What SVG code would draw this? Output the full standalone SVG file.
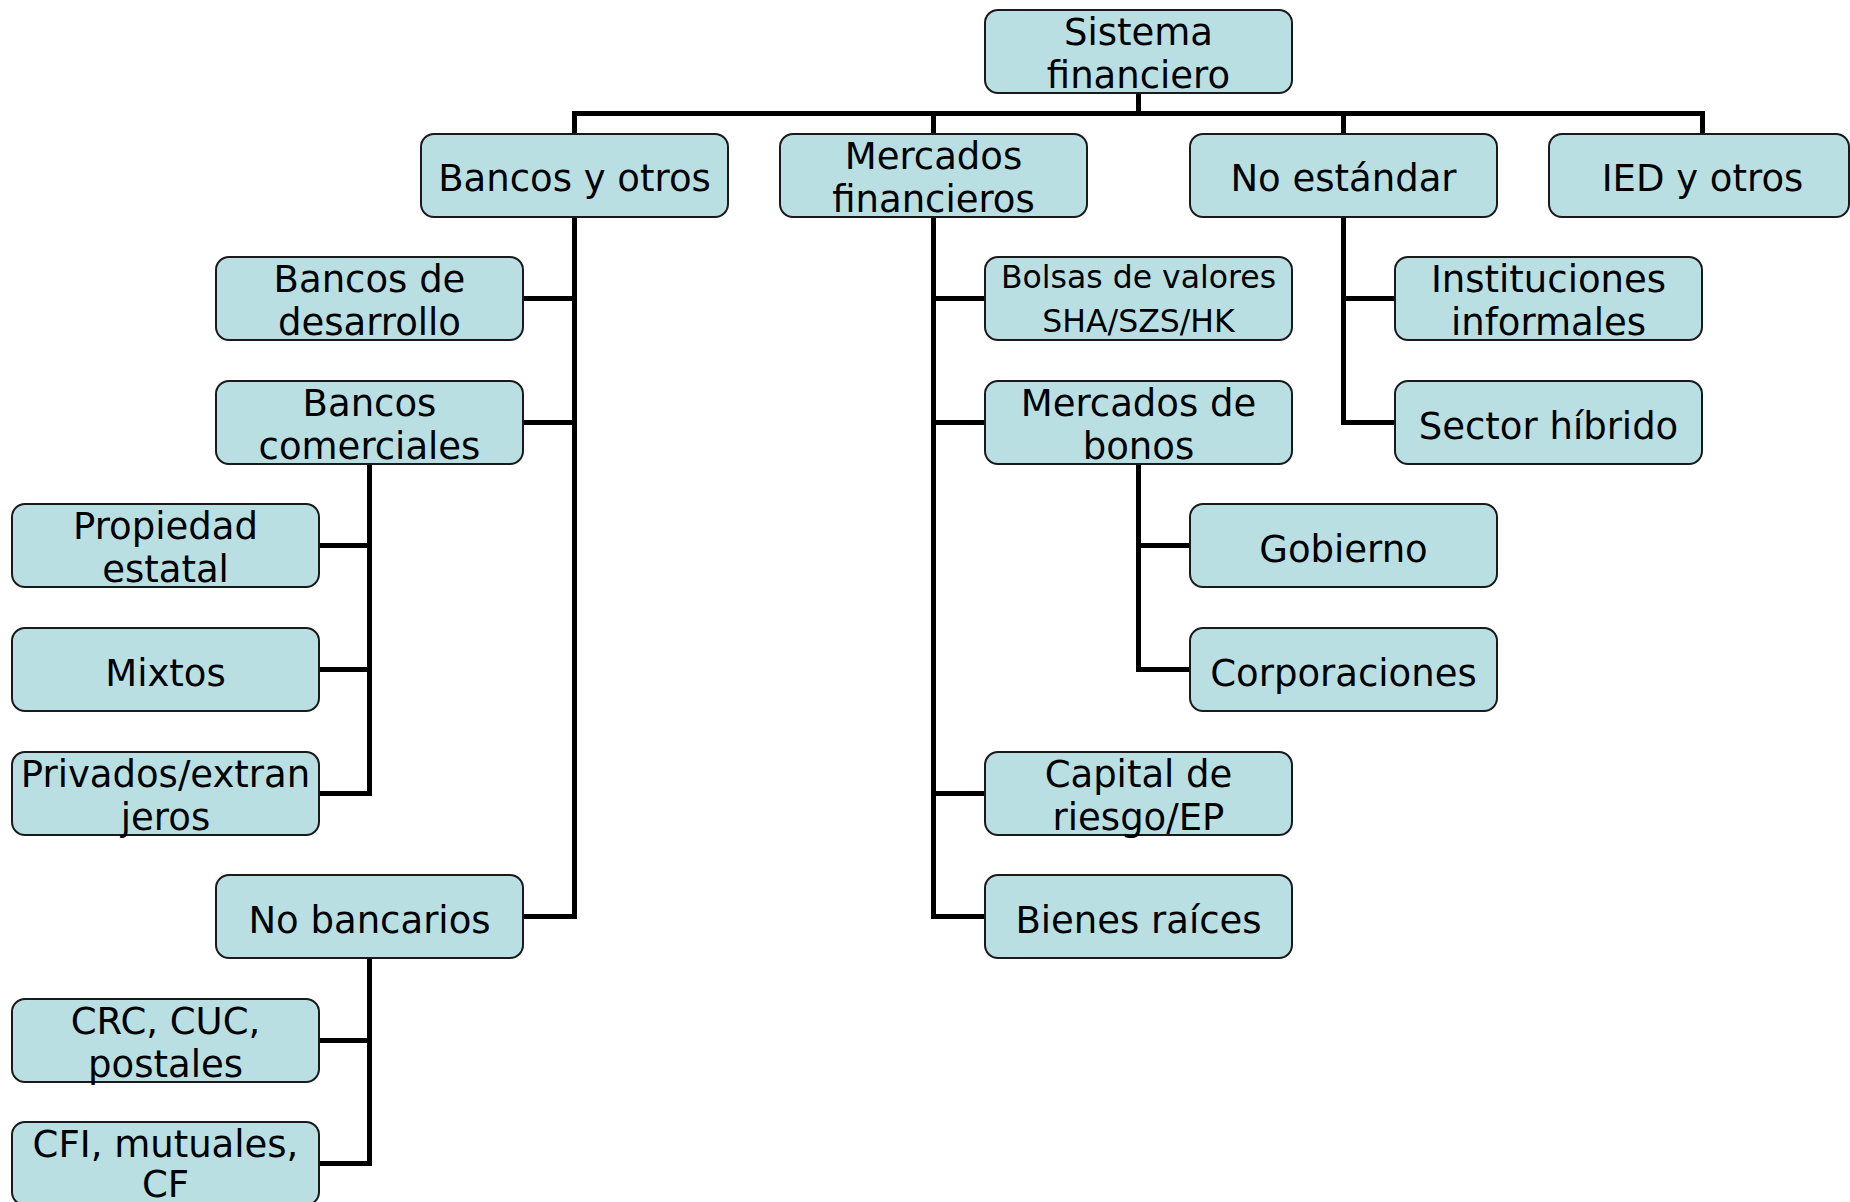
<svg xmlns="http://www.w3.org/2000/svg" width="1850" height="1202" viewBox="0 0 1850 1202">
<style>
.b{fill:#badfe2;stroke:#1a1a1a;stroke-width:2}
.t{font-family:"DejaVu Sans","Verdana",sans-serif;font-size:37px;fill:#000;text-anchor:middle}
.s{font-size:31.5px}
.c{fill:none;stroke:#000;stroke-width:5;stroke-linejoin:miter}
</style>
<rect width="1850" height="1202" fill="#fff"/>
<g id="connectors" class="c">
<path d="M1138.5 93V113.5M574.5 134V113.5H1702.5V134M933.5 113.5V134M1343.5 113.5V134"/>
<path d="M574.5 217V916.5H523M574.5 298.5H523M574.5 422.5H523"/>
<path d="M369.5 464V793.5H319M369.5 545.5H319M369.5 669.5H319"/>
<path d="M369.5 958V1163.5H319M369.5 1040.5H319"/>
<path d="M933.5 217V916.5H985M933.5 298.5H985M933.5 422.5H985M933.5 793.5H985"/>
<path d="M1138.5 464V669.5H1190M1138.5 545.5H1190"/>
<path d="M1343.5 217V422.5H1395M1343.5 298.5H1395"/>
</g>
<g id="root"><rect class="b" x="985" y="10" width="307" height="83" rx="13"/><text class="t" x="1138.5" y="45">Sistema</text><text class="t" x="1138.5" y="88">financiero</text></g>
<g id="bancos"><rect class="b" x="421" y="134" width="307" height="83" rx="13"/><text class="t" x="574.5" y="191">Bancos y otros</text></g>
<g id="mercados"><rect class="b" x="780" y="134" width="307" height="83" rx="13"/><text class="t" x="933.5" y="169">Mercados</text><text class="t" x="933.5" y="212">financieros</text></g>
<g id="noestandar"><rect class="b" x="1190" y="134" width="307" height="83" rx="13"/><text class="t" x="1343.5" y="191">No estándar</text></g>
<g id="ied"><rect class="b" x="1549" y="134" width="300" height="83" rx="13"/><text class="t" x="1702.5" y="191">IED y otros</text></g>
<g id="desarrollo"><rect class="b" x="216" y="257" width="307" height="83" rx="13"/><text class="t" x="369.5" y="292">Bancos de</text><text class="t" x="369.5" y="335">desarrollo</text></g>
<g id="comerciales"><rect class="b" x="216" y="381" width="307" height="83" rx="13"/><text class="t" x="369.5" y="416">Bancos</text><text class="t" x="369.5" y="459">comerciales</text></g>
<g id="estatal"><rect class="b" x="12" y="504" width="307" height="83" rx="13"/><text class="t" x="165.5" y="539">Propiedad</text><text class="t" x="165.5" y="582">estatal</text></g>
<g id="mixtos"><rect class="b" x="12" y="628" width="307" height="83" rx="13"/><text class="t" x="165.5" y="685.5">Mixtos</text></g>
<g id="privados"><rect class="b" x="12" y="752" width="307" height="83" rx="13"/><text class="t" x="165.5" y="787">Privados/extran</text><text class="t" x="165.5" y="830">jeros</text></g>
<g id="nobancarios"><rect class="b" x="216" y="875" width="307" height="83" rx="13"/><text class="t" x="369.5" y="932.5">No bancarios</text></g>
<g id="crc"><rect class="b" x="12" y="999" width="307" height="83" rx="13"/><text class="t" x="165.5" y="1034">CRC, CUC,</text><text class="t" x="165.5" y="1077">postales</text></g>
<g id="cfi"><rect class="b" x="12" y="1122" width="307" height="83" rx="13"/><text class="t" x="165.5" y="1157">CFI, mutuales,</text><text class="t" x="165.5" y="1197">CF</text></g>
<g id="bolsas"><rect class="b" x="985" y="257" width="307" height="83" rx="13"/><text class="t s" x="1138.5" y="288">Bolsas de valores</text><text class="t s" x="1138.5" y="332">SHA/SZS/HK</text></g>
<g id="bonos"><rect class="b" x="985" y="381" width="307" height="83" rx="13"/><text class="t" x="1138.5" y="416">Mercados de</text><text class="t" x="1138.5" y="459">bonos</text></g>
<g id="gobierno"><rect class="b" x="1190" y="504" width="307" height="83" rx="13"/><text class="t" x="1343.5" y="561.5">Gobierno</text></g>
<g id="corporaciones"><rect class="b" x="1190" y="628" width="307" height="83" rx="13"/><text class="t" x="1343.5" y="685.5">Corporaciones</text></g>
<g id="capital"><rect class="b" x="985" y="752" width="307" height="83" rx="13"/><text class="t" x="1138.5" y="787">Capital de</text><text class="t" x="1138.5" y="830">riesgo/EP</text></g>
<g id="bienes"><rect class="b" x="985" y="875" width="307" height="83" rx="13"/><text class="t" x="1138.5" y="932.5">Bienes raíces</text></g>
<g id="informales"><rect class="b" x="1395" y="257" width="307" height="83" rx="13"/><text class="t" x="1548.5" y="292">Instituciones</text><text class="t" x="1548.5" y="335">informales</text></g>
<g id="hibrido"><rect class="b" x="1395" y="381" width="307" height="83" rx="13"/><text class="t" x="1548.5" y="438.5">Sector híbrido</text></g>
</svg>
